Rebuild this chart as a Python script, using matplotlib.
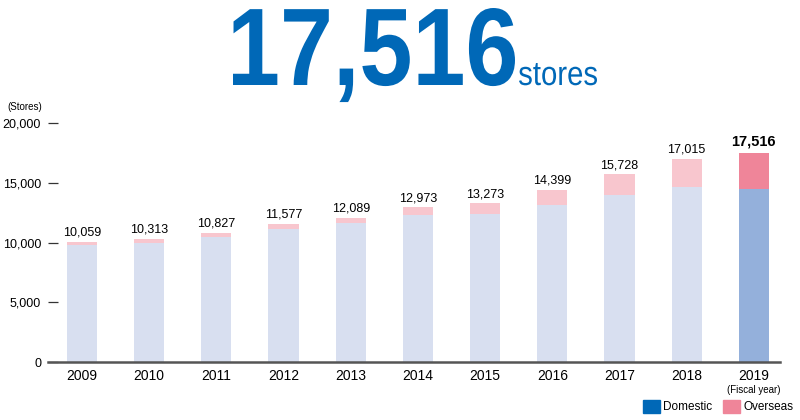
import matplotlib
matplotlib.use("Agg")
import matplotlib.pyplot as plt
from matplotlib.patches import Rectangle, PathPatch
from matplotlib.textpath import TextPath
from matplotlib.font_manager import FontProperties
from matplotlib.transforms import Affine2D

# store counts by fiscal year
years = ["2009", "2010", "2011", "2012", "2013", "2014", "2015", "2016", "2017", "2018", "2019"]
domestic = [9761, 9994, 10457, 11130, 11606, 12276, 12395, 13111, 13992, 14659, 14444]
overseas = [298, 319, 370, 447, 483, 697, 878, 1288, 1736, 2356, 3072]
yticks = [0, 5000, 10000, 15000, 20000]

BLUE = "#0068b7"
DOM_LIGHT = "#d8dff0"
OVS_LIGHT = "#f8c6ce"
DOM_DARK = "#94b0db"
OVS_DARK = "#ef8599"
FONT = "Liberation Sans"

W, H = 800, 420
fig = plt.figure(figsize=(8, 4.2), dpi=100)
ax = fig.add_axes([0.06, 0.138, 0.915, 0.569])


def condensed_text(s, x0, x1, y_base, y_top, bold=False):
    # draw text squeezed into a box (pixels from top-left), as the font has no narrow cut
    prop = FontProperties(family=FONT, weight="bold" if bold else "normal")
    path = TextPath((0, 0), s, size=1, prop=prop)
    ext = path.get_extents()
    sx = (x1 - x0) / ext.width
    sy = (y_base - y_top) / ext.y1
    tr = (Affine2D().translate(-ext.x0, 0).scale(sx / W, sy / H)
          .translate(x0 / W, 1 - y_base / H) + fig.transFigure)
    fig.patches.append(PathPatch(path, transform=tr, color=BLUE, lw=0))


x = list(range(len(years)))
last = len(years) - 1
dom_cols = [DOM_DARK if i == last else DOM_LIGHT for i in x]
ovs_cols = [OVS_DARK if i == last else OVS_LIGHT for i in x]
ax.bar(x, domestic, width=0.45, color=dom_cols, zorder=2)
ax.bar(x, overseas, width=0.45, bottom=domestic, color=ovs_cols, zorder=2)

# total labels above bars
for i in x:
    total = domestic[i] + overseas[i]
    if i == last:
        ax.text(i, total + 350, f"{total:,}", ha="center", va="bottom",
                fontsize=10.5, fontweight="bold", family=FONT)
    else:
        ax.text(i, total + 250, f"{total:,}", ha="center", va="bottom",
                fontsize=9, family=FONT)

ax.set_xlim(-0.506, 10.39)
ax.set_ylim(0, 20000)
ax.set_xticks(x)
ax.set_xticklabels(years, fontsize=10, family=FONT)
ax.set_yticks(yticks)
ax.set_yticklabels([f"{v:,}" for v in yticks], fontsize=9, family=FONT)
ax.tick_params(axis="x", length=0, pad=5)
ax.tick_params(axis="y", direction="in", length=7, width=0.9, color="#333333", pad=5)

for s in ["top", "right", "left"]:
    ax.spines[s].set_visible(False)
ax.spines["bottom"].set_linewidth(1.8)
ax.spines["bottom"].set_color("#555555")
ax.spines["bottom"].set_zorder(3)

# headline number
condensed_text("17,516", 233, 515, 85, 8, bold=True)
condensed_text("stores", 519, 597, 85, 63)

fig.text(7 / W, 1 - 107 / H, "(Stores)", fontsize=7, family=FONT,
         ha="left", va="center")
fig.text(754 / W, 1 - 390 / H, "(Fiscal year)", fontsize=7, family=FONT,
         ha="center", va="center")

# legend
fig.patches.append(Rectangle((643 / W, 1 - 413 / H), 17 / W, 13 / H,
                             transform=fig.transFigure, color=BLUE))
fig.text(663 / W, 1 - 406.5 / H, "Domestic", fontsize=8.5, family=FONT,
         ha="left", va="center")
fig.patches.append(Rectangle((723 / W, 1 - 413 / H), 17 / W, 13 / H,
                             transform=fig.transFigure, color=OVS_DARK))
fig.text(743 / W, 1 - 406.5 / H, "Overseas", fontsize=8.5, family=FONT,
         ha="left", va="center")

fig.savefig("out.png", dpi=100)
